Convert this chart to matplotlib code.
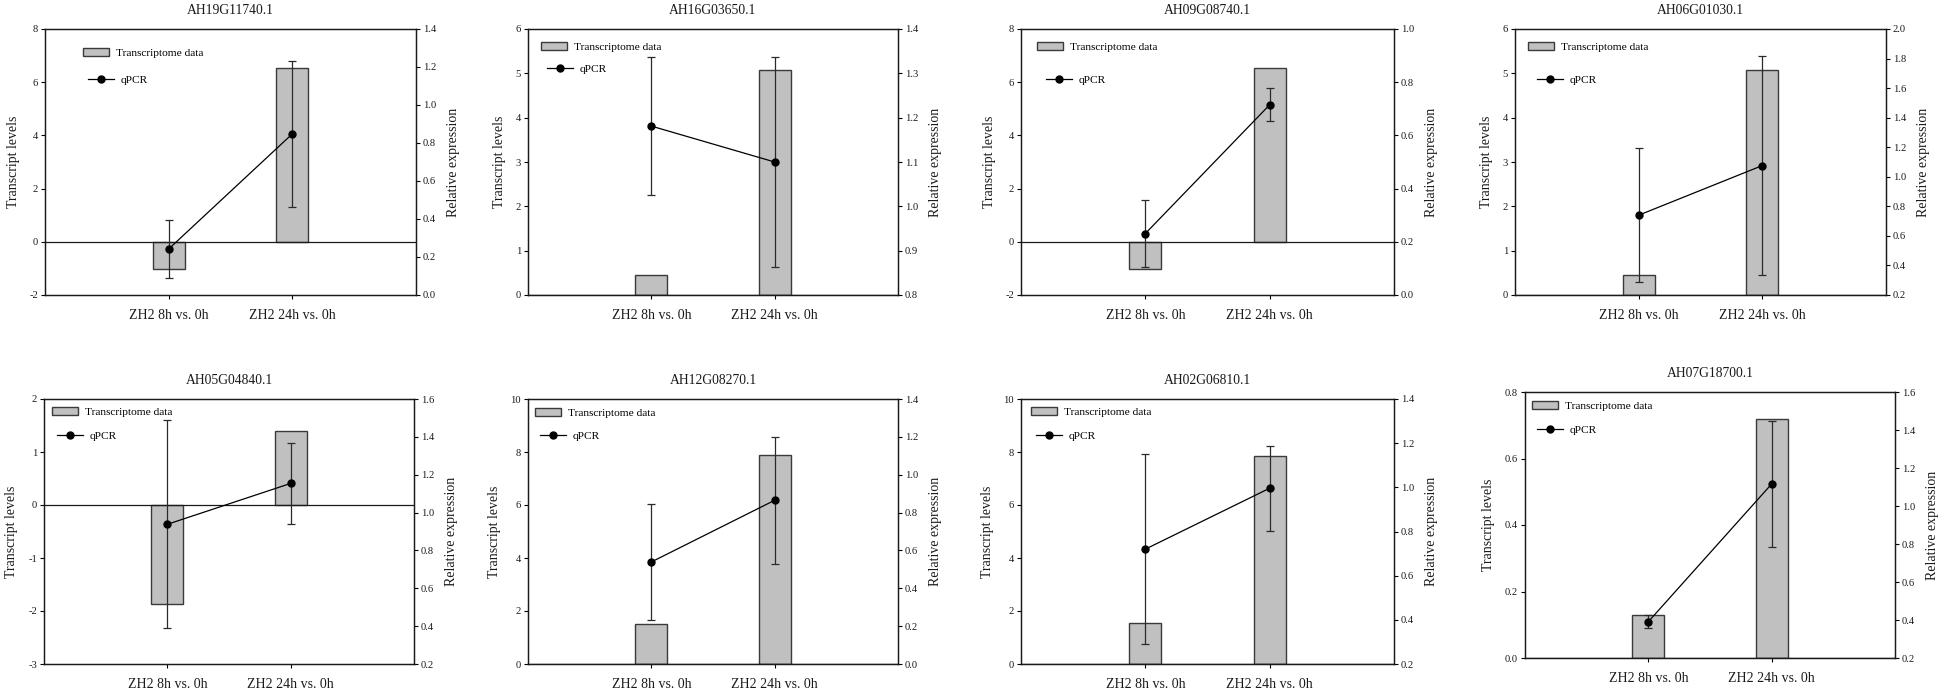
import matplotlib
matplotlib.use('Agg')
import matplotlib.pyplot as plt
from matplotlib.ticker import FormatStrFormatter, MultipleLocator
from matplotlib.patches import Patch
from matplotlib.lines import Line2D

plt.rcParams['font.family'] = ['Liberation Serif', 'DejaVu Serif']
plt.rcParams['axes.unicode_minus'] = False

categories = ['ZH2 8h vs. 0h', 'ZH2 24h vs. 0h']
genes = ['AH19G11740.1', 'AH16G03650.1', 'AH09G08740.1', 'AH06G01030.1',
         'AH05G04840.1', 'AH12G08270.1', 'AH02G06810.1', 'AH07G18700.1']

transcriptome = [
    [-1.03, 6.55], [0.44, 5.08], [-1.03, 6.54], [0.44, 5.08],
    [-1.86, 1.40], [1.52, 7.87], [1.53, 7.86], [0.13, 0.72],
]
qpcr = [
    [0.242, 0.848], [1.181, 1.100], [0.231, 0.715], [0.740, 1.076],
    [0.938, 1.154], [0.539, 0.865], [0.720, 0.996], [0.391, 1.116],
]
qpcr_err = [
    [0.154, 0.384], [0.156, 0.236], [0.127, 0.062], [0.455, 0.740],
    [0.550, 0.213], [0.305, 0.336], [0.430, 0.193], [0.035, 0.330],
]

left_lim = [(-2, 8), (0, 6), (-2, 8), (0, 6), (-3, 2), (0, 10), (0, 10), (0, 0.8)]
left_step = [2, 1, 2, 1, 1, 2, 2, 0.2]
left_fmt = ['%d', '%d', '%d', '%d', '%d', '%d', '%d', '%.1f']
right_lim = [(0, 1.4), (0.8, 1.4), (0, 1.0), (0.2, 2.0), (0.2, 1.6), (0, 1.4), (0.2, 1.4), (0.2, 1.6)]
right_step = [0.2, 0.1, 0.2, 0.2, 0.2, 0.2, 0.2, 0.2]

# layout (pixels): left, top, right, bottom
W, H = 1944, 693
rects = [
    (45, 29, 416, 295), (528, 29, 898, 295), (1021, 29, 1394, 295), (1515, 29, 1886, 295),
    (44, 399, 414, 664), (528, 399, 898, 664), (1021, 399, 1394, 664), (1525, 392, 1895, 658),
]
leg_bar_pos = [(0.102, 0.910), (0.035, 0.932), (0.043, 0.932), (0.035, 0.932),
               (0.022, 0.951), (0.019, 0.947), (0.027, 0.951), (0.019, 0.947)]
leg_line_pos = [(0.116, 0.808), (0.051, 0.850), (0.067, 0.808), (0.059, 0.808),
                (0.035, 0.860), (0.032, 0.860), (0.040, 0.860), (0.032, 0.857)]

bar_face = '#c0c0c0'
bar_edge = '#3a3a3a'
txt = '#1a1a1a'

fig = plt.figure(figsize=(W / 100, H / 100), dpi=100)

for i in range(8):
    l, t, r, b = rects[i]
    ax = fig.add_axes([l / W, 1 - b / H, (r - l) / W, (b - t) / H])
    x = list(range(len(categories)))
    ax.bar(x, transcriptome[i], width=0.26, color=bar_face, edgecolor=bar_edge,
           linewidth=1.0, zorder=2)
    ax.axhline(0, color=txt, linewidth=0.9, zorder=3)
    ax.set_xlim(-1, 2)
    ax.set_ylim(*left_lim[i])
    ax.yaxis.set_major_locator(MultipleLocator(left_step[i]))
    ax.yaxis.set_major_formatter(FormatStrFormatter(left_fmt[i]))
    ax.set_xticks(x)
    ax.set_xticklabels(categories, fontsize=10, color=txt)
    ax.tick_params(axis='x', direction='out', length=3, width=0.8, pad=7)
    ax.tick_params(axis='y', direction='out', length=3, width=0.8, labelsize=7.6,
                   labelcolor=txt, pad=2)
    ax.set_ylabel('Transcript levels', fontsize=10, color=txt, labelpad=7)
    ax.set_title(genes[i], fontsize=9.8, color=txt, pad=11)
    for s in ax.spines.values():
        s.set_linewidth(0.9)
        s.set_color(txt)

    ax2 = ax.twinx()
    ax2.errorbar(x, qpcr[i], yerr=qpcr_err[i], fmt='none', ecolor='#2a2a2a',
                 elinewidth=0.9, capsize=3, capthick=0.9, zorder=4)
    ax2.plot(x, qpcr[i], color='black', linewidth=0.9, marker='o', markersize=5,
             markerfacecolor='black', markeredgecolor='black', zorder=5)
    ax2.set_ylim(*right_lim[i])
    ax2.yaxis.set_major_locator(MultipleLocator(right_step[i]))
    ax2.yaxis.set_major_formatter(FormatStrFormatter('%.1f'))
    ax2.tick_params(axis='y', direction='out', length=3, width=0.8, labelsize=7.6,
                    labelcolor=txt, pad=2)
    ax2.set_ylabel('Relative expression', fontsize=10, color=txt, labelpad=8)
    for s in ax2.spines.values():
        s.set_linewidth(0.9)
        s.set_color(txt)

    h_bar = Patch(facecolor=bar_face, edgecolor=bar_edge, linewidth=1.0)
    h_line = Line2D([], [], color='black', linewidth=0.9, marker='o', markersize=5)
    leg1 = ax2.legend([h_bar], ['Transcriptome data'], loc='center left',
                      bbox_to_anchor=leg_bar_pos[i], frameon=False, fontsize=8.2,
                      borderpad=0, borderaxespad=0, handlelength=2.3,
                      handleheight=0.75, handletextpad=0.6)
    ax2.add_artist(leg1)
    ax2.legend([h_line], ['qPCR'], loc='center left', bbox_to_anchor=leg_line_pos[i],
               frameon=False, fontsize=8.2, borderpad=0, borderaxespad=0,
               handlelength=2.3, handletextpad=0.6)

fig.savefig('out.png', dpi=100)
